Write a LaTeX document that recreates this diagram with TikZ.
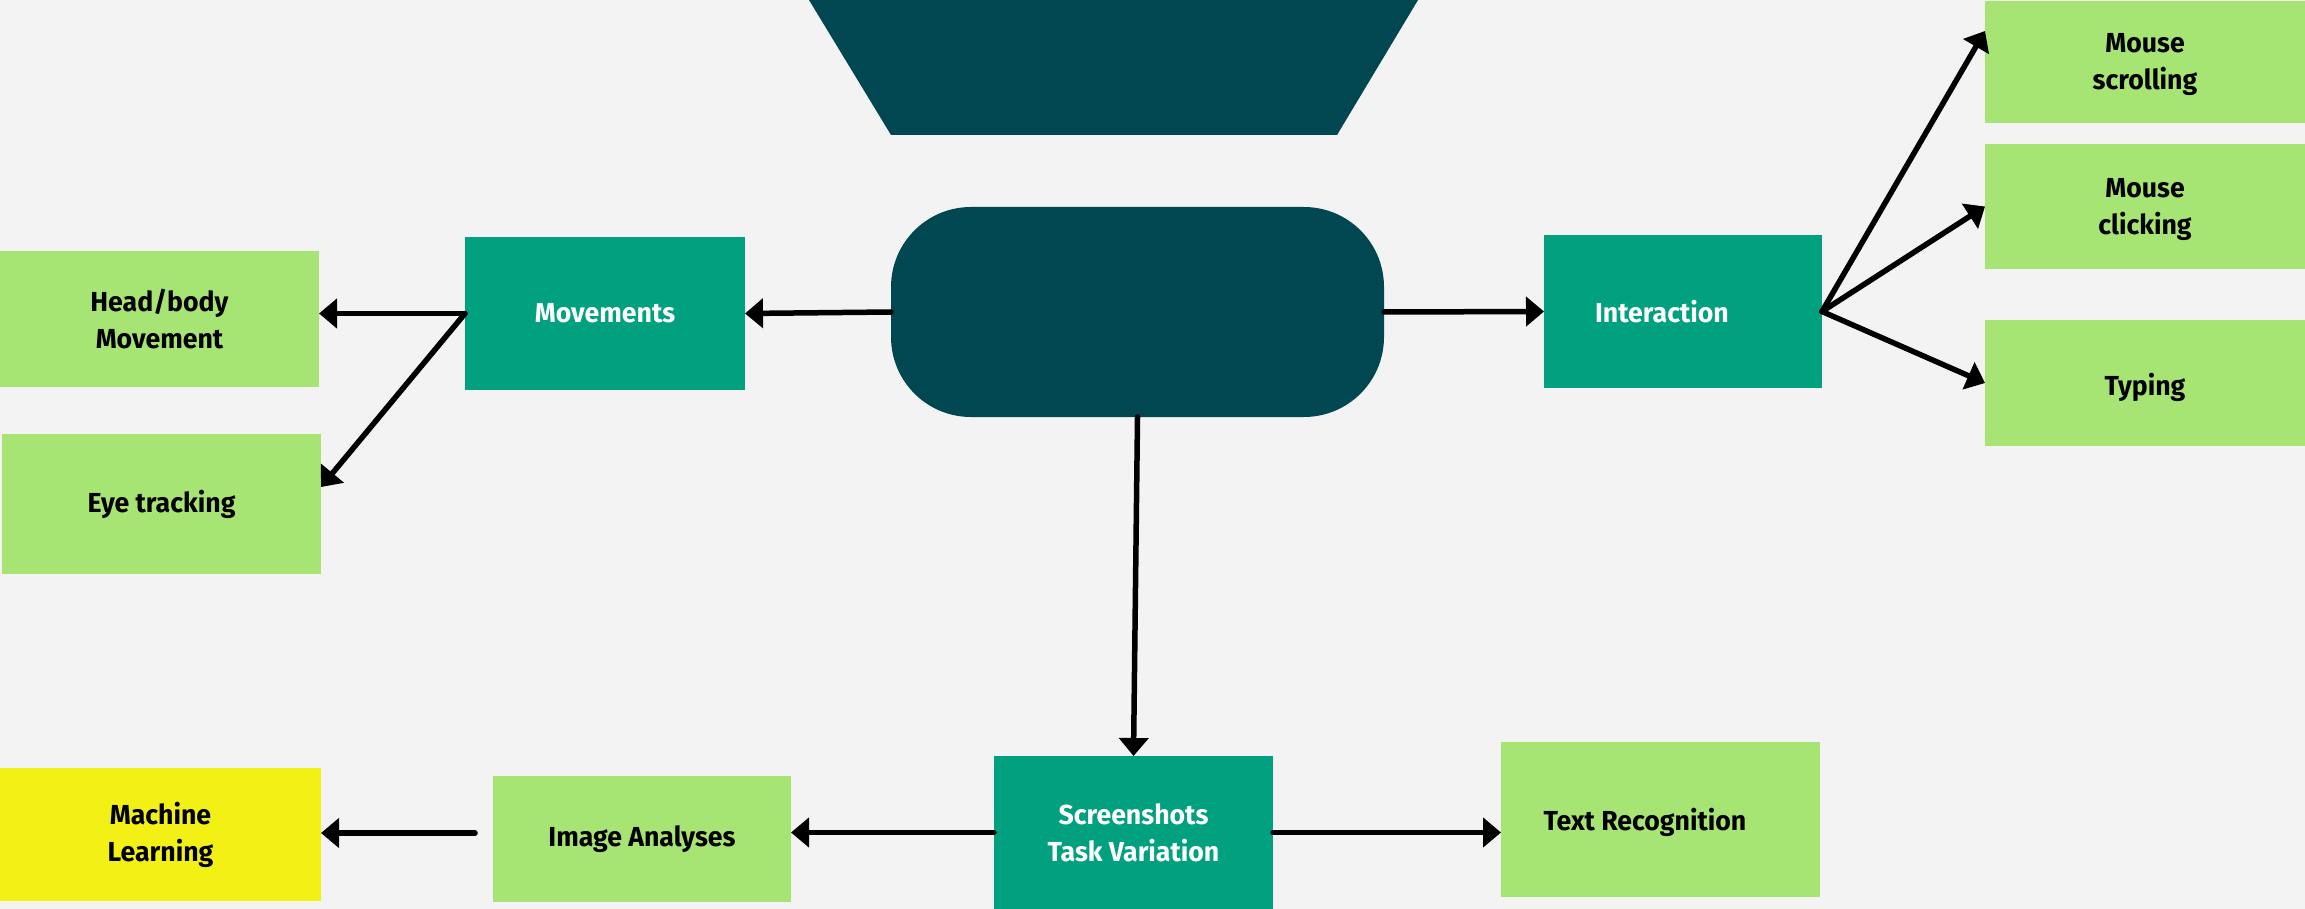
\documentclass[tikz,border=0pt]{standalone}
\usepackage{fontspec}
\setmainfont{Fira Sans}[FakeStretch=0.97]
\usetikzlibrary{arrows.meta,calc}
\definecolor{bgc}{RGB}{243,243,243}
\definecolor{darkteal}{RGB}{1,71,82}
\definecolor{midgreen}{RGB}{1,161,127}
\definecolor{lightgreen}{RGB}{166,228,115}
\definecolor{yellowc}{RGB}{242,240,20}
\tikzset{
  base/.style={inner sep=0pt, outer sep=0pt, align=center, font=\fontsize{27.5}{37}\selectfont\bfseries},
  darkbox/.style={base, fill=midgreen, text=white},
  lightbox/.style={base, fill=lightgreen, text=black},
  yellowbox/.style={base, fill=yellowc, text=black},
  sz/.style 2 args={minimum width=#1pt, minimum height=#2pt},
  lower/.style={text height=#1},
  conn/.style={line width=5.5pt, line cap=round, -{Triangle[length=18pt,width=29pt]}},
}
\begin{document}
\begin{tikzpicture}[x=1pt,y=-1pt]
\fill[bgc] (0,0) rectangle (2305,909);
\useasboundingbox (0,0) rectangle (2305,909);
% trapezoid
\fill[darkteal] (809,0) -- (1418,0) -- (1337,135) -- (891,135) -- cycle;
% hub
\node[base, fill=darkteal, rounded corners=80pt, sz={493}{210}] (hub) at (1137.5,312) {};
% boxes
\node[lightbox, sz={319}{136}] (head) at (159.5,319) {Head/body\\Movement};
\node[lightbox, sz={319}{140}] (eye) at (161.5,504) {Eye tracking};
\node[darkbox, sz={280}{153}] (mov) at (605,313.5) {Movements};
\node[darkbox, sz={278}{153}] (inter) at (1683,311.5) {};
\node[base, text=white] (intertext) at (1662,312) {Interaction};
\node[lightbox, sz={320}{122}] (scroll) at (2145,62) {};
\node[base] (scrolltext) at (2145,65) {Mouse\\scrolling};
\node[lightbox, sz={320}{125}] (click) at (2145,206.5) {};
\node[base] (clicktext) at (2145,210) {Mouse\\clicking};
\node[lightbox, sz={320}{126}, lower=31pt] (typ) at (2145,383) {Typing};
\node[yellowbox, sz={321}{133}] (ml) at (160.5,834.5) {Machine\\Learning};
\node[lightbox, sz={298}{126}] (img) at (642,839) {Image Analyses};
\node[darkbox, sz={279}{153}] (shot) at (1133.5,832.5) {Screenshots\\Task Variation};
\node[lightbox, sz={319}{155}] (tr) at (1660.5,819.5) {};
\node[base] (trtext) at (1645,822) {Text Recognition};
% connectors
\draw[conn] (mov.west) -- (head.east |- mov.west);
\draw[conn] (mov.west) -- ($(eye.east)+(0,-17)$);
\draw[conn] (hub.west) -- (mov.east);
\draw[conn] (hub.east) -- (inter.west);
\draw[conn] (inter.east) -- ($(scroll.west)+(0,-31)$);
\draw[conn] (inter.east) -- (click.west);
\draw[conn] (inter.east) -- (typ.west);
\draw[conn] (hub.south) -- (shot.north);
\draw[conn] (shot.west) -- (img.east |- shot.west);
\coordinate (imgstart) at ($(img.west)+(-18,-6)$);
\draw[conn] (imgstart) -- (ml.east |- imgstart);
\draw[conn] (shot.east) -- (tr.west |- shot.east);
\end{tikzpicture}
\end{document}
